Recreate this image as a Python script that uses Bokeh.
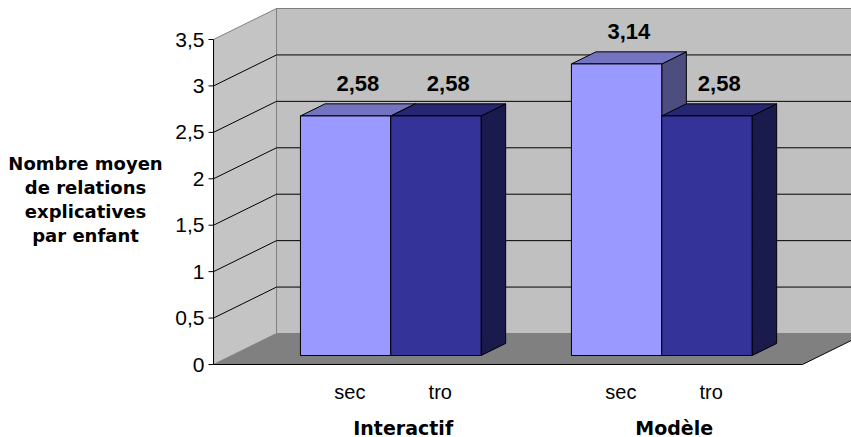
from bokeh.plotting import figure
from bokeh.models import Range1d
from bokeh.core.properties import value
from bokeh.embed import file_html
from bokeh.resources import INLINE

# ---- data ----
groups = ["Interactif", "Modèle"]
series = ["sec", "tro"]
sec_values = [2.58, 3.14]
tro_values = [2.58, 2.58]
y_ticks = [0, 0.5, 1, 1.5, 2, 2.5, 3, 3.5]
y_tick_labels = ["0", "0,5", "1", "1,5", "2", "2,5", "3", "3,5"]
y_title_lines = ["Nombre moyen", "de relations", "explicatives", "par enfant"]

# ---- layout of the pseudo-3D box ----
W, H = 851, 437
X_PX = 90.33          # pixels per x unit (one bar width)
Y_PX = 92.857         # pixels per value unit
X0_PX = 372           # pixel of the first group centre on the front plane
Y0_PX = 364           # pixel of value 0 on the front plane
GROUP_STEP = 3.0      # two bars + one gap
DEPTH_X = 63 / X_PX   # full depth offset of the box
DEPTH_Y = 31 / Y_PX
WALL_L, WALL_R = -1.76, 4.76
Y_MAX = 3.5
BAR_D0, BAR_D1 = 0.29, 0.68
TICK_LEN = 5 / X_PX

FACE_COLORS = {
    "sec": {"front": "#9999ff", "top": "#7373c0", "side": "#4d4d80"},
    "tro": {"front": "#333399", "top": "#262673", "side": "#1a1a4d"},
}


def proj(x, v, d):
    """Project a point (x, value, depth fraction) onto the chart plane."""
    return x + d * DEPTH_X, v + d * DEPTH_Y


p = figure(width=W, height=H,
           x_range=Range1d(-X0_PX / X_PX, (W - X0_PX) / X_PX),
           y_range=Range1d(-(H - Y0_PX) / Y_PX, Y0_PX / Y_PX),
           output_backend="svg", toolbar_location=None, min_border=0,
           x_axis_location=None, y_axis_location=None)
p.grid.visible = False
p.outline_line_color = None
p.background_fill_color = "white"
p.border_fill_color = "white"


def quad(points):
    xs, ys = zip(*points)
    return list(xs), list(ys)


# walls and floor
bx, by = quad([proj(WALL_L, 0, 1), proj(WALL_R, 0, 1), proj(WALL_R, Y_MAX, 1), proj(WALL_L, Y_MAX, 1)])
p.patch(bx, by, fill_color="#c0c0c0", line_color="#808080", line_width=1)
lx, ly = quad([proj(WALL_L, 0, 0), proj(WALL_L, 0, 1), proj(WALL_L, Y_MAX, 1), proj(WALL_L, Y_MAX, 0)])
p.patch(lx, ly, fill_color="#c4c4c4", line_color="#808080", line_width=1)
fx, fy = quad([proj(WALL_L, 0, 0), proj(WALL_R, 0, 0), proj(WALL_R, 0, 1), proj(WALL_L, 0, 1)])
p.patch(fx, fy, fill_color="#808080", line_color=None)

# gridlines on the back and left walls
gx0, gy0, gx1, gy1 = [], [], [], []
for v in y_ticks[1:-1]:
    a, b = proj(WALL_L, v, 1), proj(WALL_R, v, 1)
    gx0.append(a[0]); gy0.append(a[1]); gx1.append(b[0]); gy1.append(b[1])
    a, b = proj(WALL_L, v, 0), proj(WALL_L, v, 1)
    gx0.append(a[0]); gy0.append(a[1]); gx1.append(b[0]); gy1.append(b[1])
p.segment(gx0, gy0, gx1, gy1, line_color="black", line_width=1)

# floor front and right edges
e0, e1, e2 = proj(WALL_L, 0, 0), proj(WALL_R, 0, 0), proj(WALL_R, 0, 1)
p.line([e0[0], e1[0], e2[0]], [e0[1], e1[1], e2[1]], line_color="black", line_width=1)

# value axis with ticks
p.line([WALL_L, WALL_L], [0, Y_MAX], line_color="black", line_width=1)
p.segment([WALL_L - TICK_LEN] * len(y_ticks), y_ticks, [WALL_L] * len(y_ticks), y_ticks,
          line_color="black", line_width=1)
p.text([WALL_L] * len(y_ticks), y_ticks, text=y_tick_labels, x_offset=-9,
       text_align="right", text_baseline="middle",
       text_font=value("Liberation Sans"), text_font_size="21px", text_color="black")

# bars, drawn left to right so right-hand faces overlap correctly
face_xs, face_ys, face_colors = [], [], []
lab_x, lab_y, lab_text = [], [], []
cat_x, cat_text = [], []
for gi, grp in enumerate(groups):
    c = gi * GROUP_STEP
    for si, (name, vals) in enumerate(zip(series, [sec_values, tro_values])):
        v = vals[gi]
        x0, x1 = c - 1 + si, c + si
        cols = FACE_COLORS[name]
        for face, pts in (
            ("side", [proj(x1, 0, BAR_D0), proj(x1, 0, BAR_D1), proj(x1, v, BAR_D1), proj(x1, v, BAR_D0)]),
            ("top", [proj(x0, v, BAR_D0), proj(x1, v, BAR_D0), proj(x1, v, BAR_D1), proj(x0, v, BAR_D1)]),
            ("front", [proj(x0, 0, BAR_D0), proj(x1, 0, BAR_D0), proj(x1, v, BAR_D0), proj(x0, v, BAR_D0)]),
        ):
            xs, ys = quad(pts)
            face_xs.append(xs); face_ys.append(ys); face_colors.append(cols[face])
        mid = proj((x0 + x1) / 2, v, (BAR_D0 + BAR_D1) / 2)
        lab_x.append(mid[0]); lab_y.append(mid[1])
        lab_text.append(f"{v:.2f}".replace(".", ","))
        cat_x.append((x0 + x1) / 2 + 0.25); cat_text.append(name)

p.patches(face_xs, face_ys, fill_color=face_colors, line_color="black", line_width=1)

# value labels above the bars
p.text(lab_x, lab_y, text=lab_text, y_offset=-26, text_align="center", text_baseline="middle",
       text_font=value("Liberation Sans"), text_font_style="bold", text_font_size="22px",
       text_color="black")

# series and group labels under the floor
p.text(cat_x, [0] * len(cat_x), text=cat_text, y_offset=27, text_align="center",
       text_baseline="middle", text_font=value("Liberation Sans"), text_font_size="20px",
       text_color="black")
p.text([gi * GROUP_STEP + 0.34 for gi in range(len(groups))], [0] * len(groups), text=groups,
       y_offset=63, text_align="center", text_baseline="middle",
       text_font=value("DejaVu Sans"), text_font_style="bold", text_font_size="19px",
       text_color="black")

# value axis title, one line per row
TITLE_X_PX = 85
TITLE_Y_PX = [163, 187, 211, 235]
p.text([(TITLE_X_PX - X0_PX) / X_PX] * len(y_title_lines),
       [(Y0_PX - py) / Y_PX for py in TITLE_Y_PX], text=y_title_lines,
       text_align="center", text_baseline="middle",
       text_font=value("DejaVu Sans"), text_font_style="bold", text_font_size="18px",
       text_color="black")

open("out.html", "w").write(file_html(p, INLINE))
